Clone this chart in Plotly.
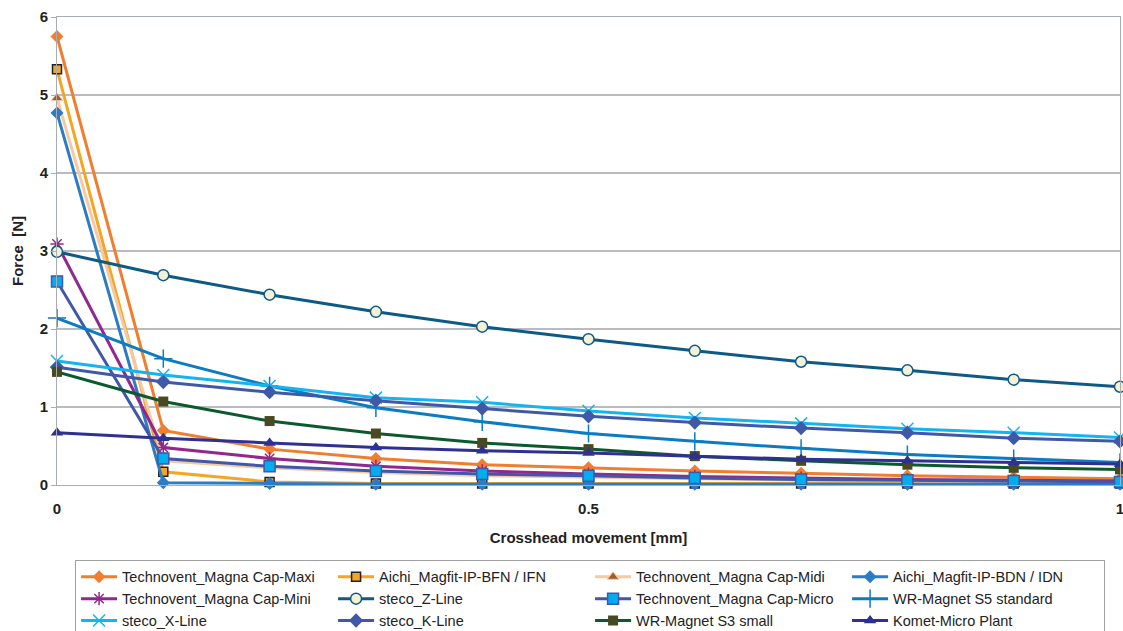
import plotly.graph_objects as go

x_mm = [0, 0.1, 0.2, 0.3, 0.4, 0.5, 0.6, 0.7, 0.8, 0.9, 1.0]

maxi  = [5.75, 0.70, 0.46, 0.34, 0.26, 0.22, 0.18, 0.15, 0.12, 0.10, 0.08]
bfn   = [5.33, 0.17, 0.04, 0.02, 0.02, 0.02, 0.02, 0.02, 0.02, 0.02, 0.02]
midi  = [4.96, 0.31, 0.22, 0.16, 0.12, 0.10, 0.08, 0.06, 0.05, 0.04, 0.03]
bdn   = [4.77, 0.03, 0.02, 0.01, 0.01, 0.01, 0.01, 0.01, 0.01, 0.01, 0.01]
mini  = [3.09, 0.48, 0.34, 0.24, 0.18, 0.14, 0.11, 0.09, 0.07, 0.06, 0.05]
zline = [2.99, 2.69, 2.44, 2.22, 2.03, 1.87, 1.72, 1.58, 1.47, 1.35, 1.26]
micro = [2.61, 0.34, 0.24, 0.18, 0.14, 0.12, 0.09, 0.07, 0.06, 0.05, 0.04]
s5    = [2.14, 1.62, 1.27, 0.99, 0.81, 0.66, 0.56, 0.47, 0.39, 0.34, 0.29]
xline = [1.59, 1.41, 1.27, 1.12, 1.06, 0.95, 0.86, 0.79, 0.72, 0.67, 0.61]
kline = [1.51, 1.32, 1.19, 1.08, 0.98, 0.88, 0.80, 0.73, 0.67, 0.60, 0.56]
s3    = [1.45, 1.07, 0.82, 0.66, 0.54, 0.46, 0.37, 0.31, 0.26, 0.22, 0.20]
komet = [0.67, 0.60, 0.54, 0.48, 0.44, 0.41, 0.37, 0.33, 0.31, 0.29, 0.27]

names = ["Technovent_Magna Cap-Maxi", "Aichi_Magfit-IP-BFN / IFN",
         "Technovent_Magna Cap-Midi", "Aichi_Magfit-IP-BDN / IDN",
         "Technovent_Magna Cap-Mini", "steco_Z-Line",
         "Technovent_Magna Cap-Micro", "WR-Magnet S5 standard",
         "steco_X-Line", "steco_K-Line", "WR-Magnet S3 small", "Komet-Micro Plant"]
series = [maxi, bfn, midi, bdn, mini, zline, micro, s5, xline, kline, s3, komet]

styles = [
    dict(lc="#F07E2E", sym="diamond", mc="#F07E2E", ml="#F07E2E", ms=10, mlw=0),
    dict(lc="#F5A524", sym="square", mc="#F5A524", ml="#222222", ms=9, mlw=1.5),
    dict(lc="#F7C9A2", sym="triangle-up", mc="#A65A2A", ml="#F7C9A2", ms=10, mlw=1),
    dict(lc="#2B7CC4", sym="diamond", mc="#2B7CC4", ml="#2B7CC4", ms=10, mlw=0),
    dict(lc="#92278F", sym="asterisk-open", mc="#92278F", ml="#92278F", ms=11, mlw=1.5),
    dict(lc="#0E5A86", sym="circle", mc="#F4F2D6", ml="#0E5A86", ms=11, mlw=1.5),
    dict(lc="#4058A8", sym="square", mc="#00AEEF", ml="#4058A8", ms=11, mlw=1.5),
    dict(lc="#0A7CC4", sym="cross-thin-open", mc="#0A7CC4", ml="#0A7CC4", ms=13, mlw=1.5),
    dict(lc="#14B4F0", sym="x-thin-open", mc="#14B4F0", ml="#14B4F0", ms=12, mlw=1.5),
    dict(lc="#4058A8", sym="diamond", mc="#4058A8", ml="#4058A8", ms=11, mlw=0),
    dict(lc="#0B5A2E", sym="square", mc="#4A4A22", ml="#4A4A22", ms=10, mlw=0),
    dict(lc="#2E3192", sym="triangle-up", mc="#2E3192", ml="#2E3192", ms=11, mlw=0),
]

fig = go.Figure()
for name, ys, st in zip(names, series, styles):
    fig.add_trace(go.Scatter(
        x=x_mm, y=ys, name=name, mode="lines+markers", cliponaxis=False,
        line=dict(color=st["lc"], width=3),
        marker=dict(symbol=st["sym"], color=st["mc"], size=st["ms"],
                    line=dict(color=st["ml"], width=st["mlw"])),
    ))

FONT = "Liberation Sans, Arial, sans-serif"
fig.update_layout(
    width=1123, height=631,
    margin=dict(l=57, r=3, t=17, b=146, autoexpand=False),
    paper_bgcolor="white", plot_bgcolor="white",
    font=dict(family=FONT, color="#222222"),
    showlegend=True,
    legend=dict(
        orientation="h", x=0.017, xanchor="left", y=-0.160, yanchor="top",
        entrywidth=206, entrywidthmode="pixels",
        bordercolor="#A0A0A0", borderwidth=1,
        font=dict(size=14.5, family=FONT, color="#222222"),
        tracegroupgap=0, itemwidth=36,
    ),
    xaxis=dict(
        range=[0, 1], tickmode="linear", tick0=0, dtick=0.5,
        showgrid=False, zeroline=False, automargin=False,
        showline=True, linecolor="#A8ADB3", linewidth=1, mirror=True,
        ticks="outside", ticklen=0, tickcolor="rgba(0,0,0,0)",
        ticklabelstandoff=10, ticklabeloverflow="allow",
        tickfont=dict(size=15, family=FONT, color="#222222", weight="bold"),
        title=dict(text="<b>Crosshead movement [mm]</b>", font=dict(size=15), standoff=16),
    ),
    yaxis=dict(
        range=[0, 6], tickvals=[0, 1, 2, 3, 4, 5, 6], automargin=False,
        showgrid=True, gridcolor="#B8BCC2", gridwidth=1.5, zeroline=False,
        showline=True, linecolor="#A8ADB3", linewidth=1, mirror=True,
        ticks="outside", ticklen=5, tickcolor="#A8ADB3",
        tickfont=dict(size=15, family=FONT, color="#222222", weight="bold"),
        title=dict(text="<b>Force  [N]</b>", font=dict(size=15), standoff=12),
    ),
)

fig.write_html(
    "out.html",
    config={"responsive": False, "displayModeBar": False},
    post_script="document.body.style.margin='0';document.body.style.overflow='hidden';",
)
